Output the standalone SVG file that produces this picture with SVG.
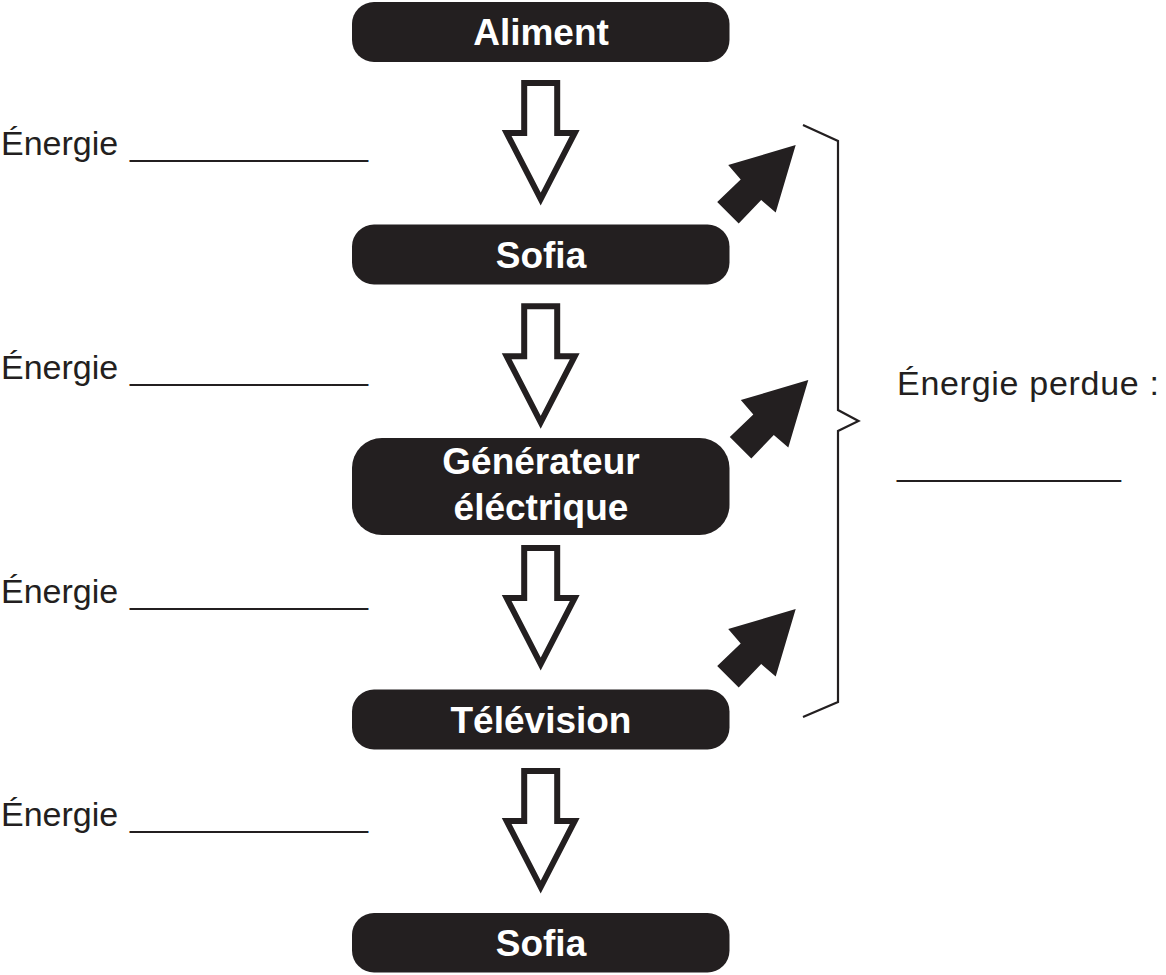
<svg xmlns="http://www.w3.org/2000/svg" width="1166" height="975" viewBox="0 0 1166 975">
  <style>
    .box { fill: #231f20; }
    .boxtxt { fill: #ffffff; font-family: "Liberation Sans", Arial, sans-serif; font-weight: bold; font-size: 37px; text-anchor: middle; }
    .lbl { fill: #231f20; font-family: "Liberation Sans", Arial, sans-serif; font-size: 34px; }
    .down { fill: #ffffff; stroke: #231f20; stroke-width: 6; stroke-linejoin: miter; stroke-miterlimit: 10; }
    .loss { fill: #231f20; }
    .brace { fill: none; stroke: #231f20; stroke-width: 2.2; }
  </style>
  <defs>
    <path id="downArrow" d="M-16.5,0 H16.5 V50 H34 L0,116 L-34,50 H-16.5 Z"/>
    <path id="lossArrow" d="M0,0 L-67.5,20 L-55,34.5 L-78.5,57 L-57,78.5 L-34.5,55 L-20,67.5 Z"/>
  </defs>

  <rect width="1166" height="975" fill="#ffffff"/>

  <g id="node-aliment">
    <rect class="box" x="352" y="2" width="377.5" height="60" rx="22"/>
    <text class="boxtxt" x="541" y="45">Aliment</text>
  </g>
  <g id="node-sofia1">
    <rect class="box" x="352" y="224.5" width="377.5" height="60" rx="22"/>
    <text class="boxtxt" x="541" y="267.5">Sofia</text>
  </g>
  <g id="node-generateur">
    <rect class="box" x="352" y="438" width="377.5" height="97" rx="30"/>
    <text class="boxtxt" x="541" y="473.5">Générateur</text>
    <text class="boxtxt" x="541" y="520">éléctrique</text>
  </g>
  <g id="node-television">
    <rect class="box" x="352" y="689.5" width="377.5" height="60" rx="22"/>
    <text class="boxtxt" x="541" y="732.5">Télévision</text>
  </g>
  <g id="node-sofia2">
    <rect class="box" x="352" y="913" width="377.5" height="59.5" rx="22"/>
    <text class="boxtxt" x="541" y="955.5">Sofia</text>
  </g>

  <g id="connectors">
    <use href="#downArrow" class="down" transform="translate(540.7,83)"/>
    <use href="#downArrow" class="down" transform="translate(540.7,306.3)"/>
    <use href="#downArrow" class="down" transform="translate(540.7,548)"/>
    <use href="#downArrow" class="down" transform="translate(540.7,771)"/>
    <use href="#lossArrow" class="loss" transform="translate(795.7,145)"/>
    <use href="#lossArrow" class="loss" transform="translate(808.3,380)"/>
    <use href="#lossArrow" class="loss" transform="translate(795.7,609)"/>
    <path class="brace" d="M803,125 L838,141 L838,410 L858.5,421 L838,431 L838,702 L803,717"/>
  </g>

  <g id="labels">
    <text class="lbl" x="1" y="155">Énergie <tspan x="130" textLength="238" lengthAdjust="spacingAndGlyphs">_____________</tspan></text>
    <text class="lbl" x="1" y="379">Énergie <tspan x="130" textLength="238" lengthAdjust="spacingAndGlyphs">_____________</tspan></text>
    <text class="lbl" x="1" y="602.5">Énergie <tspan x="130" textLength="238" lengthAdjust="spacingAndGlyphs">_____________</tspan></text>
    <text class="lbl" x="1" y="826">Énergie <tspan x="130" textLength="238" lengthAdjust="spacingAndGlyphs">_____________</tspan></text>
    <text class="lbl" x="897" y="395" textLength="262" lengthAdjust="spacing">Énergie perdue :</text>
    <text class="lbl" x="897" y="475" textLength="224" lengthAdjust="spacingAndGlyphs">____________</text>
  </g>
</svg>
